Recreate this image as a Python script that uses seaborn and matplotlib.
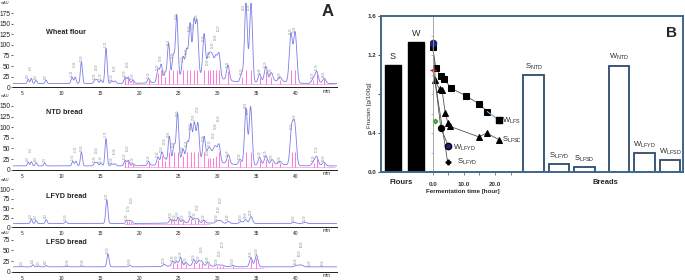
import numpy as np
import matplotlib
matplotlib.use("Agg")
import matplotlib.pyplot as plt
import seaborn as sns

sns.set_theme(style="white")
plt.rcParams["font.family"] = ["Liberation Sans", "DejaVu Sans"]
plt.rcParams["mathtext.fontset"] = "custom"
plt.rcParams["mathtext.rm"] = "Liberation Sans"
plt.rcParams["mathtext.bf"] = "Liberation Sans:bold"

# ---------------- Panel A data: peak retention times [min] and apex heights [mAU]
wheat_rt = [5.8, 6.2, 6.8, 8.07, 11.4, 11.8, 12.6, 14.3, 14.6, 15.1, 15.75, 16.5, 16.9,
            18.2, 18.6, 19.2, 21.2, 22.4, 22.8, 23.3, 23.75, 24.35, 24.8, 25.6, 26.05,
            26.5, 27.0, 27.4, 28.3, 28.8, 29.1, 29.4, 29.8, 30.2, 31.35, 33.1, 33.65,
            34.3, 35.4, 36.2, 36.9, 38.0, 39.4, 39.95, 42.25, 42.7, 43.65]
wheat_h = [19, 21, 17, 17, 24, 24, 60, 17, 18, 17, 92, 15, 15,
           24, 24, 17, 19, 39, 49, 27, 96, 66, 158, 56, 71,
           131, 135, 133, 107, 49, 49, 49, 56, 66, 45, 29, 196,
           196, 29, 45, 29, 19, 123, 127, 19, 37, 21]

ntd_rt = [5.8, 6.2, 6.8, 7.9, 11.5, 11.9, 12.6, 14.3, 14.6, 15.1, 15.75, 16.5, 16.9,
          18.2, 18.6, 19.2, 21.2, 22.4, 22.9, 23.3, 23.85, 24.45, 24.9, 25.6, 26.15,
          26.6, 27.05, 27.5, 28.3, 28.8, 29.1, 29.5, 29.8, 30.2, 31.4, 32.9, 33.65,
          34.25, 35.4, 36.2, 37.0, 38.0, 39.5, 39.9, 42.3, 42.7, 43.6]
ntd_h = [18, 19, 17, 16, 20, 20, 42, 16, 17, 16, 73, 14, 14,
         22, 22, 14, 18, 27, 38, 22, 73, 50, 124, 38, 53,
         93, 95, 95, 65, 32, 32, 32, 38, 50, 30, 22, 143,
         147, 27, 30, 20, 16, 93, 100, 18, 30, 18]

lfyd_rt = [6.2, 6.8, 8.1, 10.6, 15.85, 18.4, 18.7, 19.0, 24.0, 24.5, 25.0, 25.6,
           26.6, 27.1, 27.5, 28.3, 29.9, 30.2, 30.5, 31.4, 33.0, 33.6, 34.3, 39.8, 41.2]
lfyd_h = [22, 18, 20, 15, 72, 17, 17, 16, 20, 17, 24, 17,
          26, 20, 20, 17, 15, 15, 15, 15, 15, 20, 28, 13, 13]

lfsd_rt = [5.0, 6.4, 7.1, 8.1, 10.8, 12.8, 16.0, 18.8, 23.2, 24.3, 24.8, 25.3, 26.0,
           27.0, 27.6, 28.0, 28.8, 29.9, 30.3, 30.7, 32.0, 34.3, 35.0, 40.1, 40.5,
           40.8, 41.8, 43.5]
lfsd_h = [13, 17, 14, 15, 13, 13, 42, 15, 17, 23, 22, 31, 19,
          26, 23, 23, 21, 15, 15, 15, 15, 33, 39, 15, 15,
          15, 12, 12]

chrom_titles = ["Wheat flour", "NTD bread", "LFYD bread", "LFSD bread"]
chrom_base = [9, 9, 10, 12]
# broad unresolved humps: (centre, extra height, spread)
wheat_hump = [(27.5, 20, 2.8), (37.5, 6, 1.5)]
ntd_hump = [(27.5, 14, 2.8), (37.5, 4, 1.5)]
lfyd_hump = [(26.5, 2, 2.5)]
lfsd_hump = [(26.5, 3, 2.5)]

# ---------------- Panel B data
flour_names = ["S", "W"]
flour_fructan = [1.10, 1.33]

bread_labels = [r"S$_{\mathrm{NTD}}$", r"S$_{\mathrm{LFYD}}$", r"S$_{\mathrm{LFSD}}$",
                r"W$_{\mathrm{NTD}}$", r"W$_{\mathrm{LFYD}}$", r"W$_{\mathrm{LFSD}}$"]
bread_fructan = [0.99, 0.08, 0.05, 1.09, 0.19, 0.12]

wlfsd_t = [0, 1.0, 2.6, 3.7, 5.9, 10.7, 14.8, 17.5, 21.3]
wlfsd_v = [1.28, 1.07, 0.98, 0.95, 0.86, 0.78, 0.70, 0.62, 0.53]
slfsd_t = [0, 0.7, 2.2, 3.0, 4.0, 4.9, 5.4, 14.8, 17.3, 21.3]
slfsd_v = [1.05, 0.94, 0.85, 0.84, 0.61, 0.50, 0.47, 0.36, 0.40, 0.33]
wlfyd_t = [0, 1.0, 2.6, 5.0]
wlfyd_v = [1.32, 0.88, 0.45, 0.27]
slfyd_t = [0, 0.7, 4.8]
slfyd_v = [1.05, 0.94, 0.10]
slfyd_extra_t = [0.7]
slfyd_extra_v = [0.52]

# ---------------- figure
W, H = 685, 280
fig = plt.figure(figsize=(6.85, 2.8), dpi=100)


def add_px_axes(x0, y0, x1, y1):
    return fig.add_axes([x0 / W, 1 - y1 / H, (x1 - x0) / W, (y1 - y0) / H])


t_grid = np.linspace(3.85, 45.3, 3000)


def trace(rt, h, base, hump):
    y = np.full_like(t_grid, float(base))
    for r, hh in zip(rt, h):
        sig = 0.09 + 0.0028 * r
        y += (hh - base) * np.exp(-0.5 * ((t_grid - r) / sig) ** 2)
    for c, a, s in hump:
        y += a * np.exp(-0.5 * ((t_grid - c) / s) ** 2)
    return y


chrom = [
    (wheat_rt, wheat_h, wheat_hump, (2, 87.3), 201, [0, 25, 50, 75, 100, 125, 150, 175], (18, 45)),
    (ntd_rt, ntd_h, ntd_hump, (98, 169.7), 168.8, [0, 25, 50, 75, 100, 125, 150], (18, 45)),
    (lfyd_rt, lfyd_h, lfyd_hump, (183, 227.3), 115.7, [0, 25, 50, 75, 100], (18, 29)),
    (lfsd_rt, lfsd_h, lfsd_hump, (236, 272), 83.5, [0, 25, 50, 75], (24, 36)),
]
title_y = [33, 113, 196, 243]
mau_y = [3, 96, 180, 233.5]
blue = "#7b7fe8"
pink = "#ff44cc"

for i, (rt, h, hump, (y0, y1), ytop, yticks, prange) in enumerate(chrom):
    ax = add_px_axes(13, y0, 337, y1)
    base = chrom_base[i]
    sig = trace(rt, h, base, hump)
    per_px = ytop / (y1 - y0)
    # pink drop lines
    for r, hh in zip(rt, h):
        if prange[0] <= r <= prange[1]:
            ax.vlines(r, base - 2, base + min(hh - base, 40) * 0.8, color=pink, lw=0.5, zorder=1)
    ax.hlines(base - 2, prange[0], prange[1], color=pink, lw=0.4, alpha=0.7, zorder=1)
    sns.lineplot(x=t_grid, y=sig, ax=ax, color=blue, lw=0.6, estimator=None, zorder=2)
    # retention-time labels, staggered where neighbours crowd
    prev_r, prev_top = -99, -99
    for r, hh in zip(rt, h):
        lab = f"{r:.2f}"
        if hh + 10 * per_px > ytop:
            ax.text(r - 0.3, hh, lab, rotation=90, fontsize=1.8, color="#888888",
                    ha="center", va="top", zorder=3)
            continue
        ys = hh + 1.2 * per_px
        if r - prev_r < 0.45 and ys < prev_top + 0.5 * per_px:
            ys = prev_top + 0.5 * per_px
        ax.text(r, ys, lab, rotation=90, fontsize=1.8, color="#888888",
                ha="center", va="bottom", zorder=3)
        prev_r, prev_top = r, ys + 8 * per_px
    ax.set_xlim(3.85, 45.3)
    ax.set_ylim(0, ytop)
    ax.set_yticks(yticks)
    ax.set_yticklabels([str(v) for v in yticks], fontsize=4.8, color="#222222")
    ax.set_xticks([5, 10, 15, 20, 25, 30, 35, 40])
    ax.set_xticklabels(["5", "10", "15", "20", "25", "30", "35", "40"], fontsize=3.5, color="#222222")
    ax.set_xticks(np.arange(4, 45, 1), minor=True)
    ax.tick_params(axis="x", which="major", direction="out", length=2, width=0.5, pad=1, colors="#222222")
    ax.tick_params(axis="x", which="minor", direction="out", length=1, width=0.4, colors="#222222")
    ax.tick_params(axis="y", direction="out", length=1.5, width=0.5, pad=0.6, colors="#222222", left=True)
    for s in ["top", "right", "left"]:
        ax.spines[s].set_visible(False)
    ax.spines["bottom"].set_color("#222222")
    ax.spines["bottom"].set_linewidth(0.7)
    ax.set_facecolor("none")
    ax.text(44.0, -0.02, "min", transform=ax.get_xaxis_transform(), fontsize=3.5,
            ha="center", va="top", color="#222222")
    ax.set_xlabel("")
    ax.set_ylabel("")
    fig.text(46 / W, 1 - title_y[i] / H, chrom_titles[i], fontsize=5.2, fontweight="bold",
             ha="left", va="center")
    fig.text(1 / W, 1 - mau_y[i] / H, "mAU", fontsize=2.8, ha="left", va="center", color="#333333")

fig.text(328 / W, 1 - 12 / H, "A", fontsize=12, fontweight="bold", ha="center", va="center")

# ---------------- Panel B
frame_col = "#41668c"
y_top, y_bot = 16, 172

axF = add_px_axes(381, y_top, 430, y_bot)
sns.barplot(x=flour_names, y=flour_fructan, color="black", saturation=1, width=0.7,
            edgecolor="black", ax=axF)
axF.set_xlim(-0.52, 1.61)
axF.set_ylim(0, 1.6)
axF.set_yticks([0, 0.4, 0.8, 1.2, 1.6])
axF.set_yticklabels(["0.0", "0.4", "", "1.2", "1.6"], fontsize=4.5, fontweight="bold", color="#333333")
axF.set_xticks([])
axF.tick_params(axis="y", direction="out", length=2, width=0.6, pad=1.5, left=True, colors="#333333")
for k, (nm, v) in enumerate(zip(flour_names, flour_fructan)):
    axF.text(k, v + 0.04, nm, fontsize=6.5, ha="center", va="bottom")
axF.set_xlabel("")
axF.set_ylabel("")

axT = add_px_axes(430, y_top, 520, y_bot)
axT.set_facecolor("none")
line_col = "#555555"
sns.lineplot(x=wlfsd_t, y=wlfsd_v, ax=axT, color=line_col, lw=0.6, estimator=None, sort=False,
             marker="s", markersize=4, markerfacecolor="black", markeredgecolor="black")
sns.lineplot(x=wlfsd_t[-2:], y=wlfsd_v[-2:], ax=axT, color="#9fc3e6", lw=0.7, estimator=None,
             sort=False)
axT.plot(wlfsd_t[-1], wlfsd_v[-1], "s", color="black", ms=4)
sns.lineplot(x=slfsd_t, y=slfsd_v, ax=axT, color=line_col, lw=0.6, estimator=None, sort=False,
             marker="^", markersize=4, markerfacecolor="black", markeredgecolor="black",
             markevery=list(range(1, len(slfsd_t))))
sns.lineplot(x=slfyd_t, y=slfyd_v, ax=axT, color=line_col, lw=0.6, estimator=None, sort=False,
             marker="P", markersize=3.5, markerfacecolor="black", markeredgecolor="black",
             markevery=[len(slfyd_t) - 1])
sns.lineplot(x=wlfyd_t, y=wlfyd_v, ax=axT, color=line_col, lw=0.6, estimator=None, sort=False,
             marker="o", markersize=4.5, markerfacecolor="black", markeredgecolor="black",
             markevery=[2])
axT.plot(wlfyd_t[0], wlfyd_v[0], "o", ms=4.5, mfc="#1a237e", mec="#1a237e")
axT.plot(wlfyd_t[-1], wlfyd_v[-1], "o", ms=4.5, mfc="#1a237e", mec="black")
axT.plot(slfsd_t[0], slfsd_v[0], "_", ms=4, mec="red", mew=1)
axT.plot(slfyd_extra_t, slfyd_extra_v, "D", ms=2.5, mfc="#33cc33", mec="#116611", mew=0.5)

axT.text(wlfsd_t[-1] + 1.0, wlfsd_v[-1], r"W$_{\mathrm{LFSD}}$", fontsize=5.5, va="center", ha="left")
axT.text(slfsd_t[-1] + 1.0, slfsd_v[-1], r"S$_{\mathrm{LFSD}}$", fontsize=5.5, va="center", ha="left")
axT.text(wlfyd_t[-1] + 1.4, wlfyd_v[-1] - 0.02, r"W$_{\mathrm{LFYD}}$", fontsize=5.5, va="center", ha="left")
axT.text(slfyd_t[-1] + 2.9, slfyd_v[-1] + 0.005, r"S$_{\mathrm{LFYD}}$", fontsize=5.5, va="center", ha="left")

axT.set_xlim(-0.87, 28.0)
axT.set_ylim(0, 1.6)
axT.set_xticks([0, 5, 10, 15, 20, 25])
axT.set_xticklabels(["0.0", "", "10.0", "", "20.0", ""], fontsize=4.5, fontweight="bold", color="#333333")
axT.set_yticks(np.arange(0, 1.61, 0.2))
axT.set_yticklabels([])
axT.spines["left"].set_position(("data", 0))
axT.spines["left"].set_color("#999999")
axT.spines["left"].set_linewidth(0.6)
axT.spines["right"].set_visible(False)
axT.tick_params(axis="x", direction="out", length=2, width=0.5, pad=5, bottom=True, colors="#555555")
axT.tick_params(axis="x", labelcolor="#333333")
axT.tick_params(axis="y", direction="out", length=1.5, width=0.5, left=True, colors="#999999")
axT.set_xlabel("")
axT.set_ylabel("")

axB = add_px_axes(520, y_top, 683, y_bot)
bread_pos = [0, 1, 2, 3.35, 4.35, 5.35]
axB.bar(bread_pos, bread_fructan, width=0.8, color="white", edgecolor="#2d4b6b", linewidth=1.3)
for p, v, lb in zip(bread_pos, bread_fructan, bread_labels):
    axB.text(p, v + 0.035, lb, fontsize=5.5, ha="center", va="bottom")
axB.set_xlim(-0.53, 5.86)
axB.set_ylim(0, 1.6)
axB.set_xticks([])
axB.set_yticks([])
axB.spines["left"].set_visible(False)
axB.text(0.93, 0.89, "B", transform=axB.transAxes, fontsize=11, fontweight="bold",
         ha="center", va="center")

for a, sides in [(axF, ["left", "top", "bottom"]), (axT, ["top", "bottom"]),
                 (axB, ["top", "bottom", "right"])]:
    for s in sides:
        a.spines[s].set_visible(True)
        a.spines[s].set_color(frame_col)
        a.spines[s].set_linewidth(1.4)
axF.spines["right"].set_visible(False)

fig.text(401 / W, 1 - 183 / H, "Flours", fontsize=5.5, fontweight="bold", ha="center", va="center")
fig.text(605 / W, 1 - 183 / H, "Breads", fontsize=5.5, fontweight="bold", ha="center", va="center")
fig.text(463 / W, 1 - 192 / H, "Fermentation time [hour]", fontsize=4.5, fontweight="bold",
         ha="center", va="center")
fig.text(369 / W, 1 - 105 / H, "Fructan [g/100g]", fontsize=4.5, rotation=90,
         ha="center", va="center", color="#333333")

fig.savefig("out.png", dpi=100)
